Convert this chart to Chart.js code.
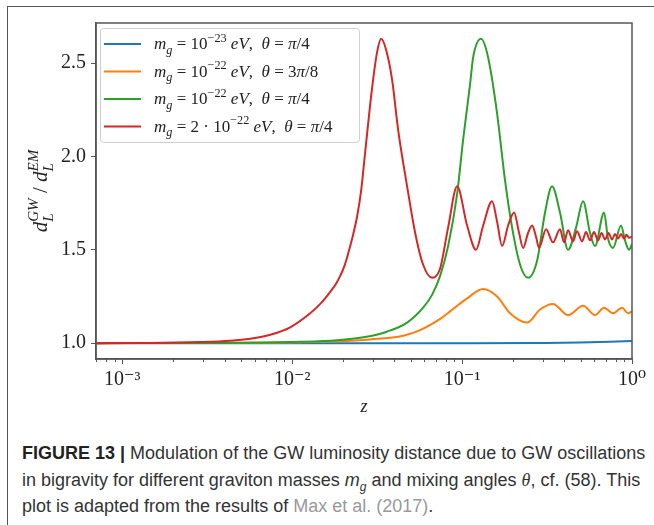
<!DOCTYPE html>
<html>
<head>
<meta charset="utf-8">
<script src="https://cdn.jsdelivr.net/npm/chart.js@4.4.1/dist/chart.umd.min.js"></script>
<style>
  html, body { margin: 0; padding: 0; background: #fff; }
  body { width: 654px; height: 525px; position: relative; overflow: hidden; }
  #frame {
    position: absolute; left: 7px; top: 6px; width: 700px; height: 600px;
    border-top: 1.5px solid #555; border-left: 1.5px solid #555;
  }
  #plot { position: absolute; left: 0; top: 0; width: 654px; height: 430px; }
  #caption {
    position: absolute; left: 22px; top: 440px;
    font-family: "Liberation Sans", Arial, sans-serif; font-size: 18px;
    line-height: 26.5px; color: #333; white-space: nowrap;
  }
  #caption b { color: #222; }
  #caption sub { font-size: 12px; line-height: 0; }
  #caption .ref { color: #999; }
  #caption .th { font-family: "Liberation Serif", serif; font-style: italic; }
</style>
</head>
<body>
<div id="frame"></div>
<div id="plot"><canvas id="chart"></canvas></div>
<div id="caption"><b>FIGURE 13 |</b> Modulation of the GW luminosity distance due to GW oscillations<br>in bigravity for different graviton masses <i>m<sub>g</sub></i> and mixing angles <span class="th">θ</span>, cf. (58). This<br>plot is adapted from the results of <span class="ref">Max et al. (2017)</span>.</div>
<script>
// Valores (z, d_L^GW / d_L^EM)
const zBlue = [0.0007, 0.01, 0.1, 0.2876, 0.4944, 0.7425, 1.0];
const dBlue = [1.0, 1.0, 1.0, 1.001, 1.003, 1.007, 1.012];

const zOrange = [0.0007, 0.007425, 0.0184, 0.02877, 0.04498, 0.05662, 0.07424, 0.08497, 0.107, 0.133,
  0.1607, 0.1915, 0.2412, 0.2876, 0.3427, 0.4204, 0.5151, 0.6057, 0.6846, 0.7732, 0.8736, 0.9473, 1.0];
const dOrange = [1.0, 1.002, 1.01, 1.02, 1.04, 1.07, 1.13, 1.17, 1.24, 1.29,
  1.25, 1.16, 1.11, 1.18, 1.21, 1.15, 1.2, 1.15, 1.19, 1.16, 1.19, 1.16, 1.17];

const zGreen = [0.0007, 0.002877, 0.01114, 0.0184, 0.02955, 0.03572, 0.04746, 0.05896, 0.06665, 0.07424, 0.08275,
  0.09351, 0.1014, 0.1115, 0.1161, 0.1294, 0.1423, 0.1607, 0.179, 0.1968, 0.2194,
  0.2445, 0.276, 0.3077, 0.3383, 0.3768, 0.4204, 0.4688, 0.5151, 0.5664, 0.6057,
  0.6846, 0.7225, 0.7732, 0.8613, 0.9096, 0.9602, 1.0];
const dGreen = [1.0, 1.001, 1.007, 1.016, 1.04, 1.06, 1.11, 1.19, 1.26, 1.36, 1.52,
  1.8, 2.09, 2.39, 2.53, 2.63, 2.53, 2.23, 1.87, 1.62, 1.42,
  1.35, 1.44, 1.7, 1.84, 1.7, 1.5, 1.62, 1.76, 1.59, 1.52,
  1.7, 1.56, 1.51, 1.63, 1.55, 1.5, 1.53];

const zRed = [0.0007, 0.001462, 0.002877, 0.004318, 0.005662, 0.007425, 0.009731, 0.01276, 0.01462, 0.01674,
  0.01815, 0.01916, 0.02023, 0.02135, 0.02254, 0.02411, 0.02547, 0.02686, 0.02955, 0.03162,
  0.03339, 0.03572, 0.03873, 0.04206, 0.04746, 0.05293, 0.05896, 0.06665, 0.07424, 0.08275,
  0.09351, 0.107, 0.1208, 0.133, 0.1501, 0.1607, 0.1719, 0.1866, 0.2022, 0.2165,
  0.2285, 0.2445, 0.2582, 0.2723, 0.2837, 0.3119, 0.3427, 0.3768, 0.3981, 0.4204,
  0.4498, 0.4747, 0.508, 0.5362, 0.5664, 0.5976, 0.631, 0.6621, 0.6935, 0.7277,
  0.7624, 0.7943, 0.8279, 0.8613, 0.8974, 0.9282, 0.9602, 1.0];
const dRed = [1.0, 1.001, 1.006, 1.013, 1.024, 1.045, 1.085, 1.16, 1.21, 1.275,
  1.32, 1.36, 1.41, 1.48, 1.56, 1.68, 1.82, 2.02, 2.37, 2.56,
  2.63, 2.57, 2.41, 2.14, 1.84, 1.59, 1.42, 1.35, 1.4, 1.62,
  1.84, 1.63, 1.5, 1.63, 1.76, 1.65, 1.52, 1.63, 1.7, 1.59,
  1.51, 1.59, 1.63, 1.57, 1.51, 1.61, 1.54, 1.61, 1.54, 1.605,
  1.545, 1.6, 1.545, 1.595, 1.55, 1.595, 1.55, 1.59, 1.555, 1.59,
  1.555, 1.585, 1.56, 1.585, 1.56, 1.58, 1.565, 1.57];

const xTickValues = [0.001, 0.01, 0.1, 1];
const xTickLabels = ['10⁻³', '10⁻²', '10⁻¹', '10⁰'];
const yTickValues = [1.0, 1.5, 2.0, 2.5];

// Etiquetas de la leyenda (trozos: texto, cursiva, sub/superíndice)
const legendLabels = [
  [['m', 'i'], ['g', 'i', 'sub'], [' = 10', 'r'], ['−23', 'r', 'sup'], [' eV', 'i'], [',  ', 'r'], ['θ', 'i'], [' = ', 'r'], ['π', 'i'], ['/4', 'r']],
  [['m', 'i'], ['g', 'i', 'sub'], [' = 10', 'r'], ['−22', 'r', 'sup'], [' eV', 'i'], [',  ', 'r'], ['θ', 'i'], [' = 3', 'r'], ['π', 'i'], ['/8', 'r']],
  [['m', 'i'], ['g', 'i', 'sub'], [' = 10', 'r'], ['−22', 'r', 'sup'], [' eV', 'i'], [',  ', 'r'], ['θ', 'i'], [' = ', 'r'], ['π', 'i'], ['/4', 'r']],
  [['m', 'i'], ['g', 'i', 'sub'], [' = 2 · 10', 'r'], ['−22', 'r', 'sup'], [' eV', 'i'], [',  ', 'r'], ['θ', 'i'], [' = ', 'r'], ['π', 'i'], ['/4', 'r']]
];
const yTitle = [['d', 'i'], ['L', 'i', 'sub', true], ['GW', 'i', 'sup'], [' / ', 'r'], ['d', 'i'], ['L', 'i', 'sub', true], ['EM', 'i', 'sup']];

const SERIF = '"Liberation Serif", "DejaVu Serif", serif';
const AXIS = '#555';

function segFont(seg, size) {
  const sz = seg[2] ? size * 0.72 : size;
  return (seg[1] === 'i' ? 'italic ' : '') + sz + 'px ' + SERIF;
}

function mathWidth(ctx, segs, size) {
  let w = 0;
  segs.forEach(seg => {
    ctx.font = segFont(seg, size);
    if (!seg[3]) w += ctx.measureText(seg[0]).width;
  });
  return w;
}

// Dibuja texto con sub/superíndices empezando en x
function drawMath(ctx, segs, x, y, size) {
  let cx = x;
  segs.forEach(seg => {
    ctx.font = segFont(seg, size);
    let dy = 0;
    if (seg[2] === 'sub') dy = size * 0.28;
    if (seg[2] === 'sup') dy = -size * 0.42;
    ctx.fillText(seg[0], cx, y + dy);
    if (!seg[3]) cx += ctx.measureText(seg[0]).width;
  });
}

function toPoints(zs, ds) {
  return zs.map((z, i) => ({ x: z, y: ds[i] }));
}

const extrasPlugin = {
  id: 'extras',
  afterDraw(chart) {
    const { ctx, chartArea } = chart;
    const xs = chart.scales.x;
    ctx.save();
    // marco completo del área
    ctx.strokeStyle = AXIS;
    ctx.lineWidth = 1.5;
    ctx.strokeRect(chartArea.left, chartArea.top, chartArea.right - chartArea.left, chartArea.bottom - chartArea.top);

    // ticks menores del eje log
    ctx.lineWidth = 1;
    for (let n = -4; n < 0; n++) {
      for (let m = 2; m <= 9; m++) {
        const v = m * Math.pow(10, n);
        if (v < xs.min || v > xs.max) continue;
        const px = Math.round(xs.getPixelForValue(v)) + 0.5;
        ctx.beginPath();
        ctx.moveTo(px, chartArea.bottom);
        ctx.lineTo(px, chartArea.bottom + 3);
        ctx.stroke();
      }
    }

    // leyenda
    const lx = 100.5, ly = 28.5, lw = 259, lh = 114;
    ctx.fillStyle = 'rgba(255,255,255,0.85)';
    ctx.strokeStyle = '#d0d0d0';
    ctx.lineWidth = 1;
    ctx.beginPath();
    ctx.roundRect(lx, ly, lw, lh, 3);
    ctx.fill();
    ctx.stroke();
    const rows = [44, 71.5, 99, 126.5];
    legendLabels.forEach((segs, i) => {
      const ds = chart.data.datasets[i];
      ctx.strokeStyle = ds.borderColor;
      ctx.lineWidth = 2;
      ctx.beginPath();
      ctx.moveTo(104, rows[i]);
      ctx.lineTo(141, rows[i]);
      ctx.stroke();
      ctx.fillStyle = '#222';
      ctx.textBaseline = 'alphabetic';
      drawMath(ctx, segs, 154, rows[i] + 5, 17);
    });

    // título del eje y
    ctx.translate(47, 191);
    ctx.rotate(-Math.PI / 2);
    ctx.fillStyle = '#222';
    const w = mathWidth(ctx, yTitle, 21);
    drawMath(ctx, yTitle, -w / 2, 0, 21);
    ctx.restore();
  }
};

const colors = ['#1f77b4', '#ff7f0e', '#2ca02c', '#d62728'];
const series = [[zBlue, dBlue], [zOrange, dOrange], [zGreen, dGreen], [zRed, dRed]];

const datasets = series.map((s, i) => ({
  data: toPoints(s[0], s[1]),
  borderColor: colors[i],
  borderWidth: 2,
  pointRadius: 0,
  fill: false,
  cubicInterpolationMode: 'monotone',
  order: 4 - i
}));

new Chart(document.getElementById('chart').getContext('2d'), {
  type: 'line',
  data: { datasets: datasets },
  options: {
    responsive: true,
    maintainAspectRatio: false,
    animation: false,
    layout: { padding: { left: 0, top: 23, right: 22, bottom: 0 } },
    plugins: { legend: { display: false }, tooltip: { enabled: false } },
    scales: {
      x: {
        type: 'logarithmic',
        min: 0.0007,
        max: 1,
        afterBuildTicks: scale => { scale.ticks = xTickValues.map(v => ({ value: v })); },
        afterFit: scale => { scale.height = 71; },
        grid: { drawOnChartArea: false, drawTicks: true, tickLength: 5, color: AXIS, lineWidth: 1 },
        border: { display: true, color: AXIS, width: 1.5 },
        ticks: {
          color: '#222',
          padding: 4,
          maxRotation: 0,
          font: { family: SERIF, size: 20 },
          callback: (v) => xTickLabels[xTickValues.indexOf(v)]
        },
        title: {
          display: true,
          text: 'z',
          color: '#222',
          font: { family: SERIF, size: 18, style: 'italic' },
          padding: { top: 0, bottom: 12 }
        }
      },
      y: {
        type: 'linear',
        min: 0.915,
        max: 2.715,
        afterBuildTicks: scale => { scale.ticks = yTickValues.map(v => ({ value: v })); },
        afterFit: scale => { scale.width = 96; },
        grid: { drawOnChartArea: false, drawTicks: true, tickLength: 5, color: AXIS, lineWidth: 1 },
        border: { display: true, color: AXIS, width: 1.5 },
        ticks: {
          color: '#222',
          padding: 5,
          font: { family: SERIF, size: 20 },
          callback: v => v.toFixed(1)
        }
      }
    }
  },
  plugins: [extrasPlugin]
});
</script>
</body>
</html>
